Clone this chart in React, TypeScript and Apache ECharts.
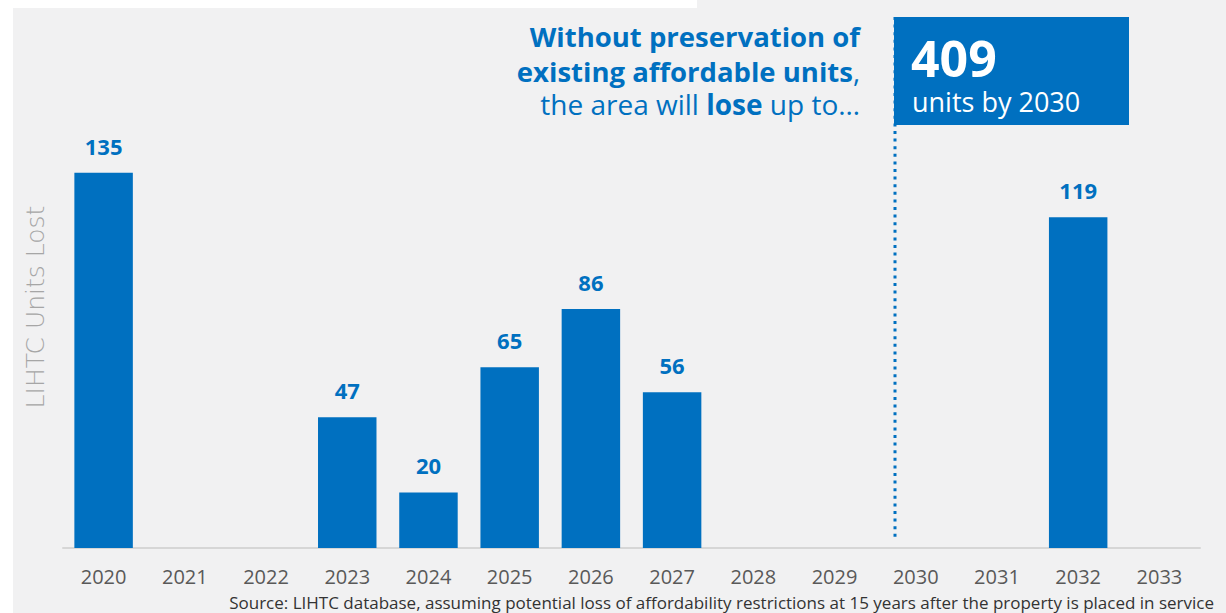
import React, { useEffect, useRef } from "react";
import * as echarts from "echarts";

const categories = ["2020", "2021", "2022", "2023", "2024", "2025", "2026", "2027", "2028", "2029", "2030", "2031", "2032", "2033"];
const unitsLost: (number | null)[] = [135, null, null, 47, 20, 65, 86, 56, null, null, null, null, 119, null];
const yAxisTitle = "LIHTC Units Lost";
const sourceNote = "Source: LIHTC database, assuming potential loss of affordability restrictions at 15 years after the property is placed in service";
const calloutTotal = "409";
const calloutSub = "units by 2030";

const BLUE = "#0070c0";
const BG = "#f1f1f2";

export default function App() {
  const ref = useRef<HTMLDivElement>(null);
  useEffect(() => {
    if (!ref.current) return;
    const chart = echarts.init(ref.current, null, { renderer: "svg" });
    chart.setOption({
      animation: false,
      backgroundColor: BG,
      grid: { left: 63, right: 26, top: 131, bottom: 65 },
      xAxis: {
        type: "category",
        data: categories,
        axisLine: { lineStyle: { color: "#d6d6d6", width: 2 } },
        axisTick: { show: false },
        axisLabel: { color: "#595959", fontSize: 20, fontFamily: "Open Sans", margin: 18 },
      },
      yAxis: {
        type: "value",
        min: 0,
        max: 150,
        show: false,
      },
      series: [
        {
          type: "bar",
          data: unitsLost,
          barCategoryGap: "28%",
          itemStyle: { color: BLUE },
          label: {
            show: true,
            position: "top",
            distance: 16,
            color: BLUE,
            fontSize: 22,
            fontWeight: "bold",
            fontFamily: "Open Sans",
          },
        },
      ],
      graphic: [
        { type: "rect", shape: { x: 0, y: 0, width: 13, height: 613 }, style: { fill: "#ffffff" }, silent: true },
        { type: "rect", shape: { x: 0, y: 0, width: 697, height: 8 }, style: { fill: "#ffffff" }, silent: true },
        {
          type: "text",
          x: 35,
          y: 307,
          rotation: Math.PI / 2,
          style: {
            text: yAxisTitle,
            fill: "#a6a6a6",
            fontSize: 25,
            fontWeight: 300,
            fontFamily: "DejaVu Sans",
            align: "center",
            verticalAlign: "middle",
          },
        },
        {
          type: "line",
          shape: { x1: 895, y1: 17, x2: 895, y2: 540 },
          style: { stroke: BLUE, lineWidth: 3, lineDash: [3, 4.6] },
        },
        { type: "rect", shape: { x: 894, y: 17, width: 235, height: 108 }, style: { fill: BLUE } },
        {
          type: "text",
          x: 911,
          y: 58,
          style: { text: calloutTotal, fill: "#ffffff", fontSize: 50, fontWeight: "bold", fontFamily: "Open Sans", verticalAlign: "middle" },
        },
        {
          type: "text",
          x: 912,
          y: 101,
          style: { text: calloutSub, fill: "#ffffff", fontSize: 27, fontFamily: "Open Sans", verticalAlign: "middle" },
        },
        {
          type: "text",
          x: 860,
          y: 36,
          style: { text: "Without preservation of", fill: BLUE, fontSize: 27.5, fontWeight: "bold", fontFamily: "Open Sans", align: "right", verticalAlign: "middle" },
        },
        {
          type: "text",
          x: 860,
          y: 71,
          style: {
            text: "{b|existing affordable units}{r|,}",
            align: "right",
            verticalAlign: "middle",
            rich: {
              b: { fill: BLUE, fontSize: 27.5, fontWeight: "bold", fontFamily: "Open Sans" },
              r: { fill: BLUE, fontSize: 27.5, fontFamily: "Open Sans" },
            },
          },
        },
        {
          type: "text",
          x: 860,
          y: 104,
          style: {
            text: "{r|the area will }{b|lose}{r| up to…}",
            align: "right",
            verticalAlign: "middle",
            rich: {
              b: { fill: BLUE, fontSize: 28, fontWeight: "bold", fontFamily: "Open Sans" },
              r: { fill: BLUE, fontSize: 28, fontFamily: "Open Sans" },
            },
          },
        },
        {
          type: "text",
          x: 1214,
          y: 602,
          style: { text: sourceNote, fill: "#333333", fontSize: 17, fontFamily: "Open Sans", align: "right", verticalAlign: "middle" },
        },
      ],
    });
    return () => chart.dispose();
  }, []);
  return <div ref={ref} style={{ position: "fixed", left: 0, top: 0, width: 1226, height: 613 }} />;
}
